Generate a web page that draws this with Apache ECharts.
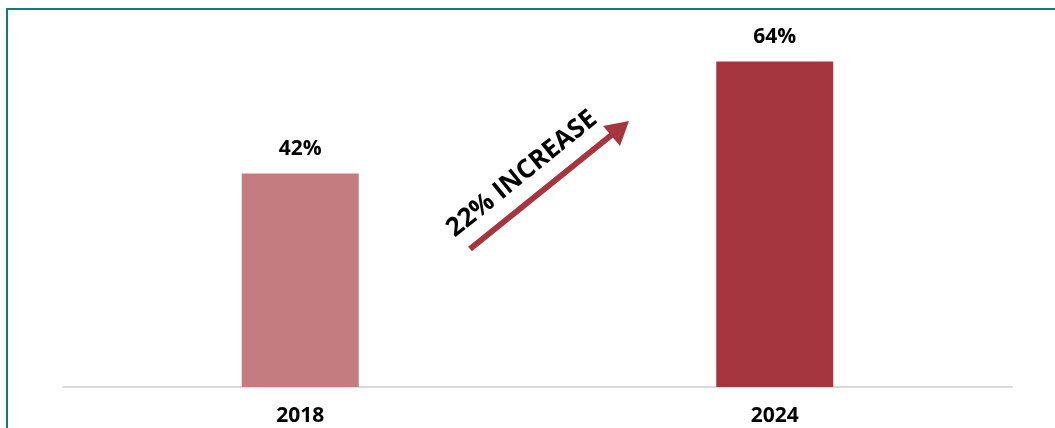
<!DOCTYPE html>
<html>
<head>
<meta charset="utf-8">
<style>
html, body { margin: 0; padding: 0; background: #fff; }
#chart { width: 1055px; height: 428px; }
</style>
<script src="https://cdn.jsdelivr.net/npm/echarts@6/dist/echarts.min.js"></script>
</head>
<body>
<div id="chart"></div>
<script>
var years = ['2018', '2024'];
var shares = [42, 64];
var barColors = ['#c57c81', '#a5353e'];
var arrowText = '22% INCREASE';

var chart = echarts.init(document.getElementById('chart'));

chart.setOption({
	animation : false,
	grid : {
		left : 63,
		right : 43,
		top : 31,
		bottom : 41
	},
	xAxis : {
		type : 'category',
		data : years,
		axisTick : { show : false },
		axisLine : {
			lineStyle : { color : '#d9d9d9', width : 2 }
		},
		axisLabel : {
			margin : 19,
			color : '#000',
			fontSize : 21,
			fontWeight : 'bold',
			fontFamily : 'Open Sans'
		}
	},
	yAxis : {
		type : 'value',
		min : 0,
		max : 70,
		show : false
	},
	series : [ {
		type : 'bar',
		barWidth : 117,
		data : shares.map(function(v, i) {
			return { value : v, itemStyle : { color : barColors[i] } };
		}),
		label : {
			show : true,
			position : 'top',
			distance : 14,
			formatter : '{c}%',
			color : '#000',
			fontSize : 21,
			fontWeight : 'bold',
			fontFamily : 'Open Sans'
		}
	} ],
	graphic : [
		// teal frame (top + left)
		{ type : 'line', shape : { x1 : 7, y1 : 9, x2 : 1055, y2 : 9 },
		  style : { stroke : '#0f7b7b', lineWidth : 2 } },
		{ type : 'line', shape : { x1 : 7, y1 : 8, x2 : 7, y2 : 428 },
		  style : { stroke : '#0f7b7b', lineWidth : 2 } },
		// arrow
		{ type : 'line', shape : { x1 : 470, y1 : 249, x2 : 614, y2 : 133 },
		  style : { stroke : '#a5353e', lineWidth : 6 } },
		{ type : 'polygon', shape : { points : [ [629, 121], [603, 126], [620, 146] ] },
		  style : { fill : '#a5353e' } },
		{ type : 'text', x : 522, y : 174, rotation : 0.68,
		  style : {
			text : arrowText,
			fill : '#000',
			font : 'bold 26px "Open Sans"',
			align : 'center',
			verticalAlign : 'middle'
		  } }
	]
});
</script>
</body>
</html>
